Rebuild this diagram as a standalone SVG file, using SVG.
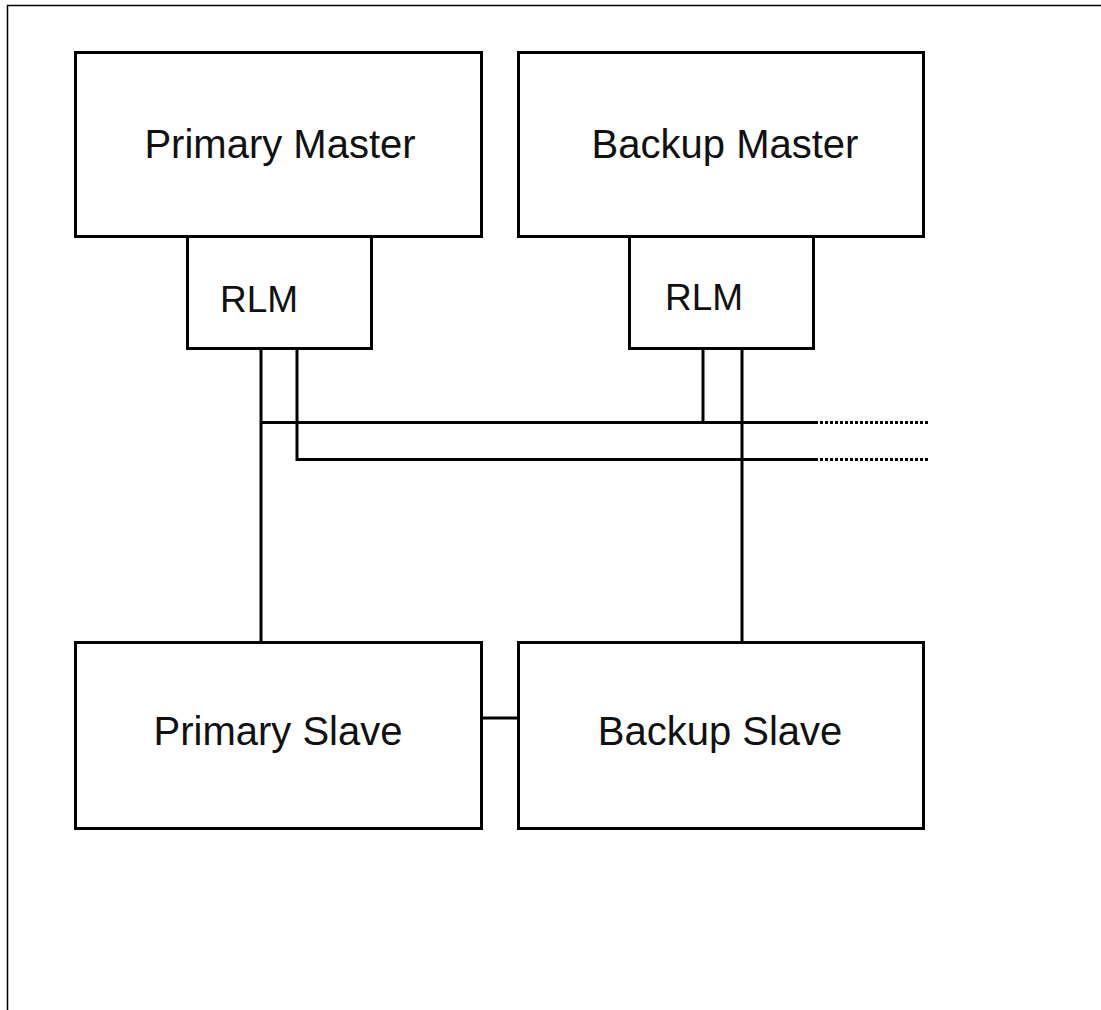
<svg xmlns="http://www.w3.org/2000/svg" width="1101" height="1010" viewBox="0 0 1101 1010">
  <style>
    .box { fill: #fff; stroke: #000; stroke-width: 3; }
    .wire { fill: none; stroke: #000; stroke-width: 3; }
    .dots { fill: none; stroke: #000; stroke-width: 3; stroke-dasharray: 3 2; }
    .frame { fill: none; stroke: #000; stroke-width: 1.5; }
    .label { font-family: "Liberation Sans", Arial, sans-serif; fill: #111; }
    .big { font-size: 40px; text-anchor: middle; }
    .small { font-size: 37px; }
  </style>
  <rect width="1101" height="1010" fill="#fff"/>
  <!-- page frame: top and left edges -->
  <path class="frame" d="M7.5,1010 V5.5 H1101"/>

  <g id="connectors">
    <!-- upper bus from primary RLM to backup RLM, continuing off to the right -->
    <path class="wire" d="M261,349 V642"/>
    <path class="wire" d="M261,422.5 H815"/>
    <path class="wire" d="M703,349 V422.5"/>
    <path class="dots" d="M815,422.5 H928"/>
    <!-- lower bus from primary RLM -->
    <path class="wire" d="M297,349 V459.5 H815"/>
    <path class="dots" d="M815,459.5 H928"/>
    <!-- backup RLM down to backup slave -->
    <path class="wire" d="M742,349 V642"/>
    <!-- slave to slave link -->
    <path class="wire" d="M482,718 H518"/>
  </g>

  <g id="primary-master">
    <rect class="box" x="75.5" y="52.5" width="406" height="184"/>
    <text class="label big" x="280" y="158">Primary Master</text>
  </g>
  <g id="backup-master">
    <rect class="box" x="518.5" y="52.5" width="405" height="184"/>
    <text class="label big" x="725" y="158">Backup Master</text>
  </g>
  <g id="primary-rlm">
    <rect class="box" x="187.5" y="236.5" width="184" height="112"/>
    <text class="label small" x="220" y="312">RLM</text>
  </g>
  <g id="backup-rlm">
    <rect class="box" x="629.5" y="236.5" width="184" height="112"/>
    <text class="label small" x="665" y="310">RLM</text>
  </g>
  <g id="primary-slave">
    <rect class="box" x="75.5" y="642.5" width="406" height="186"/>
    <text class="label big" x="278" y="745">Primary Slave</text>
  </g>
  <g id="backup-slave">
    <rect class="box" x="518.5" y="642.5" width="405" height="186"/>
    <text class="label big" x="720" y="745">Backup Slave</text>
  </g>
</svg>
